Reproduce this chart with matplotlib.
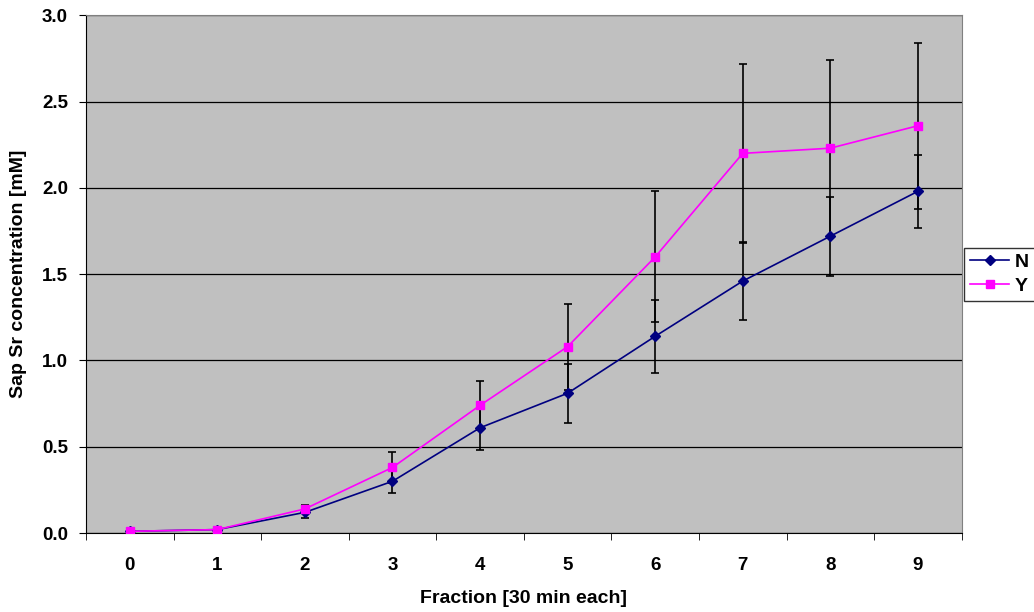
import numpy as np
import matplotlib.pyplot as plt
from matplotlib.lines import Line2D

plt.rcParams['font.family'] = ['Liberation Sans', 'DejaVu Sans']
plt.rcParams['font.weight'] = 'bold'

# data
fractions = [0, 1, 2, 3, 4, 5, 6, 7, 8, 9]
n_mean = [0.01, 0.02, 0.12, 0.30, 0.61, 0.81, 1.14, 1.46, 1.72, 1.98]
n_err = [0.005, 0.005, 0.03, 0.07, 0.13, 0.17, 0.21, 0.225, 0.23, 0.21]
y_mean = [0.01, 0.02, 0.14, 0.38, 0.74, 1.08, 1.60, 2.20, 2.23, 2.36]
y_err = [0.005, 0.005, 0.02, 0.09, 0.14, 0.25, 0.38, 0.52, 0.51, 0.48]

fig = plt.figure(figsize=(10.34, 6.12), dpi=100)
ax = fig.add_axes([0.0832, 0.129, 0.8468, 0.846])
ax.set_facecolor('#c0c0c0')

x = np.array(fractions)
ax.errorbar(x, n_mean, yerr=n_err, color='#000080', marker='D', markersize=5,
            linewidth=1.2, ecolor='black', elinewidth=1.2, capsize=3, capthick=1.2,
            zorder=3)
ax.errorbar(x, y_mean, yerr=y_err, color='#ff00ff', marker='s', markersize=6,
            linewidth=1.2, ecolor='black', elinewidth=1.2, capsize=3, capthick=1.2,
            zorder=3)

ax.set_xlim(-0.5, 9.5)
ax.set_ylim(0, 3.0)
ax.set_yticks(np.arange(0, 3.01, 0.5))
ax.set_yticklabels([f'{v:.1f}' for v in np.arange(0, 3.01, 0.5)])
ax.yaxis.grid(True, color='black', linewidth=0.9)
ax.set_axisbelow(True)

ax.set_xticks(x)
ax.set_xticklabels([str(f) for f in fractions])
ax.set_xticks(np.arange(-0.5, 9.6, 1), minor=True)
ax.tick_params(axis='x', which='major', length=0, pad=17, labelsize=13.5)
ax.tick_params(axis='x', which='minor', length=5, direction='out')
ax.tick_params(axis='y', length=5, direction='out', pad=8, labelsize=13.5)

for s in ['top', 'right']:
    ax.spines[s].set_color('#808080')
for s in ['left', 'bottom']:
    ax.spines[s].set_color('black')

ax.set_xlabel('Fraction [30 min each]', fontsize=14, fontweight='bold', labelpad=12)
ax.set_ylabel('Sap Sr concentration [mM]', fontsize=14, fontweight='bold', labelpad=11)

handles = [Line2D([], [], color='#000080', marker='D', markersize=5, linewidth=1.2),
           Line2D([], [], color='#ff00ff', marker='s', markersize=6, linewidth=1.2)]
leg = ax.legend(handles, ['N', 'Y'], loc='center left', bbox_to_anchor=(1.003, 0.5),
                fontsize=14, frameon=True, fancybox=False, edgecolor='black',
                handlelength=2.0, borderpad=0.3, labelspacing=0.3, handletextpad=0.3,
                borderaxespad=0)
leg.get_frame().set_linewidth(1.0)

fig.savefig('out.png', dpi=100)
